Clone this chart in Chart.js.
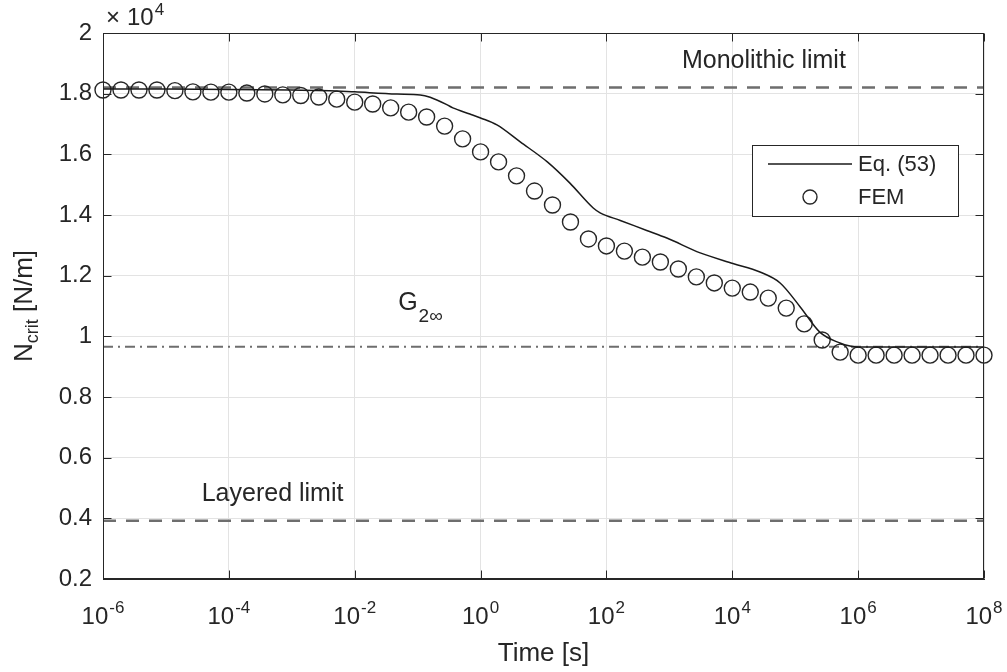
<!DOCTYPE html>
<html>
<head>
<meta charset="utf-8">
<script src="https://cdn.jsdelivr.net/npm/chart.js@4.4.1/dist/chart.umd.min.js"></script>
<style>
  html, body { margin: 0; padding: 0; background: #fff; }
  #wrap { width: 1007px; height: 672px; }
</style>
</head>
<body>
<div id="wrap"><canvas id="chart" width="1007" height="672"></canvas></div>
<script>
// axis ticks
const timeTicks = [1e-6, 1e-4, 1e-2, 1e0, 1e2, 1e4, 1e6, 1e8];
const timeExponents = ['-6', '-4', '-2', '0', '2', '4', '6', '8'];
const forceTicks = [2000, 4000, 6000, 8000, 10000, 12000, 14000, 16000, 18000, 20000];

// Eq. (53) curve, N_crit in N/m
const eqTime = [1e-6, 1e-5, 1e-4, 1e-3, 4e-3, 1e-2, 0.047, 0.11, 0.158, 0.295, 0.363, 0.676, 1,
  1.82, 4.27, 11.5, 26.3, 61.7, 79.4, 166, 437, 912, 3090, 10230, 27540, 57540,
  120200, 245500, 512900, 741300, 1e6, 1e8];
const eqValue = [18150, 18150, 18140, 18120, 18100, 18060, 17990, 17960, 17880, 17630, 17530, 17330, 17200,
  16970, 16410, 15750, 15050, 14230, 14070, 13820, 13490, 13240, 12750, 12400, 12120, 11760,
  10970, 10140, 9780, 9680, 9650, 9650];

// FEM results
const femTime = [
  1e-6, 1.931e-6, 3.728e-6, 7.197e-6, 1.389e-5, 2.683e-5, 5.179e-5,
  1e-4, 1.931e-4, 3.728e-4, 7.197e-4, 1.389e-3, 2.683e-3, 5.179e-3,
  1e-2, 1.931e-2, 3.728e-2, 7.197e-2, 0.1389, 0.2683, 0.5179,
  1, 1.931, 3.728, 7.197, 13.89, 26.83, 51.79,
  100, 193.1, 372.8, 719.7, 1389, 2683, 5179,
  1e4, 1.931e4, 3.728e4, 7.197e4, 1.389e5, 2.683e5, 5.179e5,
  1e6, 1.931e6, 3.728e6, 7.197e6, 1.389e7, 2.683e7, 5.179e7,
  1e8];
const femValue = [
  18120, 18120, 18120, 18120, 18100, 18060, 18050,
  18050, 18020, 17990, 17960, 17940, 17890, 17820,
  17720, 17660, 17530, 17390, 17230, 16930, 16510,
  16080, 15750, 15290, 14790, 14330, 13770, 13210,
  12980, 12810, 12610, 12450, 12220, 11960, 11760,
  11590, 11460, 11260, 10930, 10410, 9880, 9480,
  9380, 9380, 9380, 9380, 9380, 9380, 9380,
  9380];

// reference levels
const monolithicLimit = 18200;
const layeredLimit = 3920;
const g2InfLevel = 9660;

// text labels: [text, time, value]
const notes = [['Monolithic limit', 1585, 18850], ['Layered limit', 3.7e-5, 4570]];
const gNote = [0.049, 10870];

const FONT = "'Liberation Sans', Arial, Helvetica, sans-serif";
const INK = '#262626';

function pts(xs, ys) { return xs.map((t, i) => ({ x: t, y: ys[i] })); }
function level(v) { return [{ x: timeTicks[0], y: v }, { x: timeTicks[timeTicks.length - 1], y: v }]; }

const decor = {
  id: 'decor',
  afterDraw(chart) {
    const { ctx, chartArea: a, scales: { x, y } } = chart;
    ctx.save();

    // box and inward ticks
    ctx.strokeStyle = INK;
    ctx.lineWidth = 1;
    const L = Math.round(a.left) + 0.5, R = Math.round(a.right) - 0.5;
    const T = Math.round(a.top) + 0.5, B = Math.round(a.bottom) - 0.5;
    ctx.strokeRect(L, T, R - L, B - T);
    ctx.beginPath();
    timeTicks.forEach(t => {
      const px = Math.round(x.getPixelForValue(t)) + 0.5;
      ctx.moveTo(px, B); ctx.lineTo(px, B - 8);
      ctx.moveTo(px, T); ctx.lineTo(px, T + 8);
    });
    forceTicks.forEach(v => {
      const py = Math.round(y.getPixelForValue(v)) + 0.5;
      ctx.moveTo(L, py); ctx.lineTo(L + 8, py);
      ctx.moveTo(R, py); ctx.lineTo(R - 8, py);
    });
    ctx.stroke();

    // x tick labels 10^n
    ctx.fillStyle = INK;
    ctx.textAlign = 'left';
    ctx.textBaseline = 'alphabetic';
    timeTicks.forEach((t, i) => {
      const px = x.getPixelForValue(t);
      ctx.font = '24px ' + FONT;
      const wb = ctx.measureText('10').width;
      ctx.font = '17px ' + FONT;
      const we = ctx.measureText(timeExponents[i]).width;
      const x0 = px - (wb + we + 1) / 2;
      ctx.font = '24px ' + FONT;
      ctx.fillText('10', x0, a.bottom + 45);
      ctx.font = '17px ' + FONT;
      ctx.fillText(timeExponents[i], x0 + wb + 1, a.bottom + 34);
    });

    // exponent of y axis
    ctx.font = '24px ' + FONT;
    ctx.fillText('\u00d7', a.left + 3, a.top - 8);
    ctx.fillText('10', a.left + 24, a.top - 8);
    const wx = ctx.measureText('10').width;
    ctx.font = '17px ' + FONT;
    ctx.fillText('4', a.left + 25 + wx, a.top - 18);

    // x title
    ctx.font = '26px ' + FONT;
    ctx.textAlign = 'center';
    ctx.fillText('Time [s]', (a.left + a.right) / 2, a.bottom + 82);

    // y title with subscript
    ctx.save();
    ctx.translate(32, (a.top + a.bottom) / 2);
    ctx.rotate(-Math.PI / 2);
    ctx.textAlign = 'left';
    ctx.font = '26px ' + FONT;
    const w1 = ctx.measureText('N').width;
    const w3 = ctx.measureText(' [N/m]').width;
    ctx.font = '18px ' + FONT;
    const w2 = ctx.measureText('crit').width;
    let sx = -(w1 + w2 + w3) / 2;
    ctx.font = '26px ' + FONT;
    ctx.fillText('N', sx, 0);
    ctx.font = '18px ' + FONT;
    ctx.fillText('crit', sx + w1, 6);
    ctx.font = '26px ' + FONT;
    ctx.fillText(' [N/m]', sx + w1 + w2, 0);
    ctx.restore();

    // annotations
    ctx.textAlign = 'left';
    ctx.font = '25px ' + FONT;
    notes.forEach(([txt, t, v]) => {
      ctx.fillText(txt, x.getPixelForValue(t), y.getPixelForValue(v));
    });
    const gx = x.getPixelForValue(gNote[0]), gy = y.getPixelForValue(gNote[1]);
    ctx.font = '25px ' + FONT;
    ctx.fillText('G', gx, gy);
    const wg = ctx.measureText('G').width;
    ctx.font = '19px ' + FONT;
    ctx.fillText('2\u221e', gx + wg + 1, gy + 12);

    // legend
    const lx = a.right - 232, ly = a.top + 112, lw = 206, lh = 71;
    ctx.fillStyle = '#fff';
    ctx.fillRect(lx, ly, lw, lh);
    ctx.strokeStyle = INK;
    ctx.lineWidth = 1;
    ctx.strokeRect(lx + 0.5, ly + 0.5, lw, lh);
    ctx.strokeStyle = '#1a1a1a';
    ctx.lineWidth = 1.5;
    ctx.beginPath();
    ctx.moveTo(lx + 16, ly + 19); ctx.lineTo(lx + 100, ly + 19);
    ctx.stroke();
    ctx.strokeStyle = INK;
    ctx.lineWidth = 1.4;
    ctx.beginPath();
    ctx.arc(lx + 58, ly + 52, 7, 0, Math.PI * 2);
    ctx.stroke();
    ctx.fillStyle = INK;
    ctx.font = '22px ' + FONT;
    ctx.textBaseline = 'middle';
    ctx.fillText('Eq. (53)', lx + 106, ly + 20);
    ctx.fillText('FEM', lx + 106, ly + 53);

    ctx.restore();
  }
};

new Chart(document.getElementById('chart'), {
  type: 'line',
  data: {
    datasets: [
      {
        label: 'Eq. (53)',
        data: pts(eqTime, eqValue),
        borderColor: '#1a1a1a',
        borderWidth: 1.5,
        pointRadius: 0,
        cubicInterpolationMode: 'monotone',
        fill: false
      },
      {
        label: 'FEM',
        data: pts(femTime, femValue),
        showLine: false,
        pointStyle: 'circle',
        pointRadius: 8,
        pointBorderWidth: 1.4,
        borderColor: INK,
        backgroundColor: 'rgba(0,0,0,0)',
        clip: false
      },
      {
        label: 'Monolithic limit',
        data: level(monolithicLimit),
        borderColor: '#6e6e6e',
        borderWidth: 2.5,
        borderDash: [13, 10],
        pointRadius: 0
      },
      {
        label: 'Layered limit',
        data: level(layeredLimit),
        borderColor: '#6e6e6e',
        borderWidth: 2.5,
        borderDash: [13, 10],
        pointRadius: 0
      },
      {
        label: 'G2inf',
        data: level(g2InfLevel),
        borderColor: '#6e6e6e',
        borderWidth: 2,
        borderDash: [10, 5, 2, 5],
        pointRadius: 0
      }
    ]
  },
  options: {
    responsive: false,
    animation: false,
    devicePixelRatio: 1,
    layout: { padding: { top: 33, right: 23, left: 0, bottom: 0 } },
    plugins: { legend: { display: false }, tooltip: { enabled: false } },
    scales: {
      x: {
        type: 'logarithmic',
        min: 1e-6,
        max: 1e8,
        afterBuildTicks: s => { s.ticks = timeTicks.map(v => ({ value: v })); },
        afterFit: s => { s.height = 93; },
        ticks: { display: false },
        grid: { color: '#e3e3e3', drawTicks: false },
        border: { color: INK, width: 1 }
      },
      y: {
        type: 'linear',
        min: 2000,
        max: 20000,
        afterBuildTicks: s => { s.ticks = forceTicks.map(v => ({ value: v })); },
        afterFit: s => { s.width = 103; },
        ticks: {
          padding: 11,
          color: INK,
          font: { family: FONT, size: 24 },
          callback: v => String(parseFloat((v / 1e4).toFixed(1)))
        },
        grid: { color: '#e3e3e3', drawTicks: false },
        border: { color: INK, width: 1 }
      }
    }
  },
  plugins: [decor]
});
</script>
</body>
</html>
